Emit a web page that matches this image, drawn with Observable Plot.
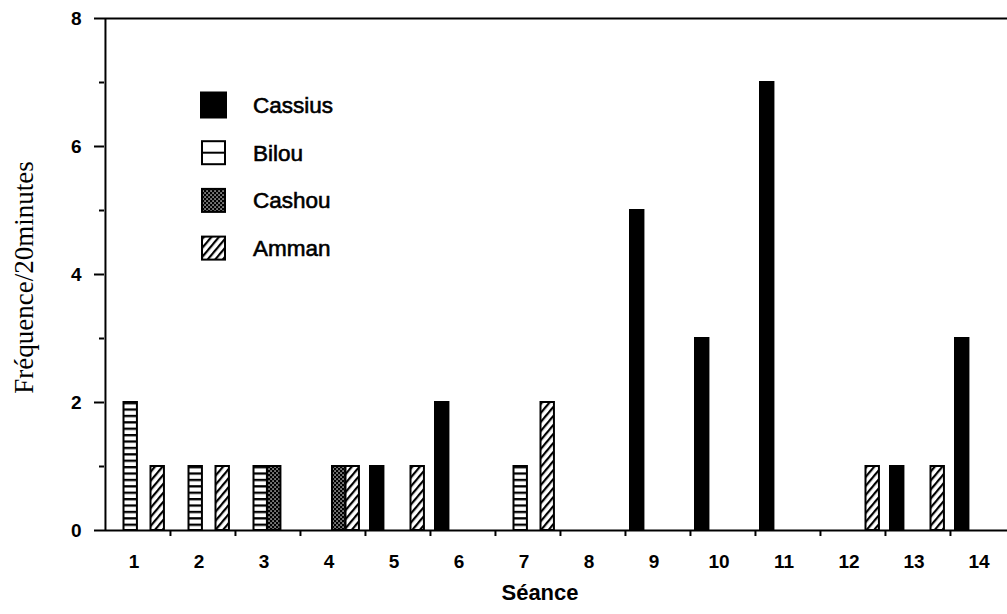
<!DOCTYPE html>
<html><head><meta charset="utf-8">
<script src="https://cdn.jsdelivr.net/npm/d3@7"></script>
<script src="https://cdn.jsdelivr.net/npm/@observablehq/plot@0.6"></script>
<style>body{margin:0;background:#fff;overflow:hidden}</style>
</head><body><div id="chart"></div>
<script>
// ---- data ----
const seances = ["1","2","3","4","5","6","7","8","9","10","11","12","13","14"];
const series = ["Cassius", "Bilou", "Cashou", "Amman"];
const cassius = [0,0,0,0,1,2,0,0,5,3,7,0,1,3];
const bilou   = [2,1,1,0,0,0,1,0,0,0,0,0,0,0];
const cashou  = [0,0,1,1,0,0,0,0,0,0,0,0,0,0];
const amman   = [1,1,0,1,1,0,2,0,0,0,0,1,1,0];
const majorTicks = [0, 2, 4, 6, 8];
const minorTicks = [1, 3, 5, 7];
const xLabel = "Séance";
const yLabel = "Fréquence/20minutes";

const valuesBySerie = {Cassius: cassius, Bilou: bilou, Cashou: cashou, Amman: amman};
const rows = [];
series.forEach(s => valuesBySerie[s].forEach((v, i) => { if (v > 0) rows.push({seance: seances[i], serie: s, value: v}); }));

// ---- styling ----
const x0 = 104, x1 = 1015;
const bw = (x1 - x0) / seances.length;
const barW = 13.5;
const slot = {Cassius: 5, Bilou: 18.5, Cashou: 32, Amman: 45.5};
const fills = {Cassius: "black", Bilou: "url(#p-bilou)", Cashou: "url(#p-cashou)", Amman: "url(#p-amman)"};

function legend(index, scales, values, dims, context) {
  const g = d3.create("svg:g").attr("text-anchor", "start");
  series.forEach((s, i) => {
    const cy = 105 + i * 47.7;
    const sz = s === "Cassius" ? 25 : 23;
    g.append("rect").attr("x", 213.5 - sz / 2).attr("y", cy - sz / 2).attr("width", sz).attr("height", sz)
      .attr("fill", s === "Bilou" ? "white" : fills[s]).attr("stroke", "black").attr("stroke-width", 2);
    if (s === "Bilou") {
      g.append("line").attr("x1", 202).attr("x2", 225).attr("y1", cy).attr("y2", cy)
        .attr("stroke", "black").attr("stroke-width", 2);
    }
    g.append("text").attr("x", 253).attr("y", cy + 8).text(s)
      .attr("font-size", 22.5).attr("fill", "black").attr("stroke", "black").attr("stroke-width", 0.6);
  });
  return g.node();
}

const chart = Plot.plot({
  width: 1007, height: 614,
  marginLeft: x0, marginRight: 0, marginTop: 18, marginBottom: 84,
  style: {fontFamily: "'Liberation Sans', Arial, sans-serif", background: "white", color: "black"},
  x: {type: "band", domain: seances, range: [x0, x1], padding: 0, label: null},
  y: {domain: [0, 8], label: null},
  marks: [
    ...series.map(s => Plot.barY(rows.filter(d => d.serie === s), {
      x: "seance", y: "value", fill: fills[s], stroke: "black", strokeWidth: 2,
      insetLeft: slot[s], insetRight: bw - slot[s] - barW
    })),
    Plot.ruleY([0, 8], {strokeWidth: 2}),
    Plot.ruleX(seances.slice(0, 1), {x: d => d, y1: 0, y2: 8, dx: -bw / 2, strokeWidth: 2}),
    Plot.ruleX(seances.slice(1), {x: d => d, y1: 0, y2: 0, insetBottom: -6, dx: -bw / 2, strokeWidth: 2}),
    Plot.axisY(majorTicks, {tickSize: 10, tickPadding: 13, tickFormat: d3.format("d"), fontSize: 19, fontWeight: "bold", strokeWidth: 2, label: null}),
    Plot.axisY(minorTicks, {tickSize: 5, tickFormat: () => "", strokeWidth: 2, label: null}),
    Plot.axisX({tickSize: 0, tickPadding: 24, fontSize: 19, fontWeight: "bold", dx: -4, label: null}),
    Plot.text([xLabel], {frameAnchor: "bottom", lineAnchor: "middle", textAnchor: "middle", dy: 62, dx: -16, fontSize: 22, fontWeight: "bold", fill: "black"}),
    Plot.text([yLabel], {frameAnchor: "left", rotate: -90, lineAnchor: "middle", textAnchor: "middle", dx: -80, dy: 3, fontSize: 27, fontFamily: "'Liberation Serif', 'Times New Roman', serif", fill: "black"}),
    legend
  ]
});

d3.select(chart).insert("defs", ":first-child").html(`
  <pattern id="p-bilou" patternUnits="userSpaceOnUse" width="20" height="6.4" patternTransform="translate(0,5.2)">
    <rect width="20" height="6.4" fill="white"/>
    <rect y="0" width="20" height="2.3" fill="black"/>
  </pattern>
  <pattern id="p-amman" patternUnits="userSpaceOnUse" width="5.8" height="20" patternTransform="rotate(40)">
    <rect width="5.8" height="20" fill="white"/>
    <rect x="0" width="2.2" height="20" fill="black"/>
  </pattern>
  <pattern id="p-cashou" patternUnits="userSpaceOnUse" width="4" height="4">
    <rect width="4" height="4" fill="black"/>
    <rect x="0.4" y="0.4" width="1.3" height="1.3" fill="white"/>
    <rect x="2.4" y="2.4" width="1.3" height="1.3" fill="white"/>
  </pattern>
`);

document.getElementById("chart").appendChild(chart);
</script>
</body></html>
